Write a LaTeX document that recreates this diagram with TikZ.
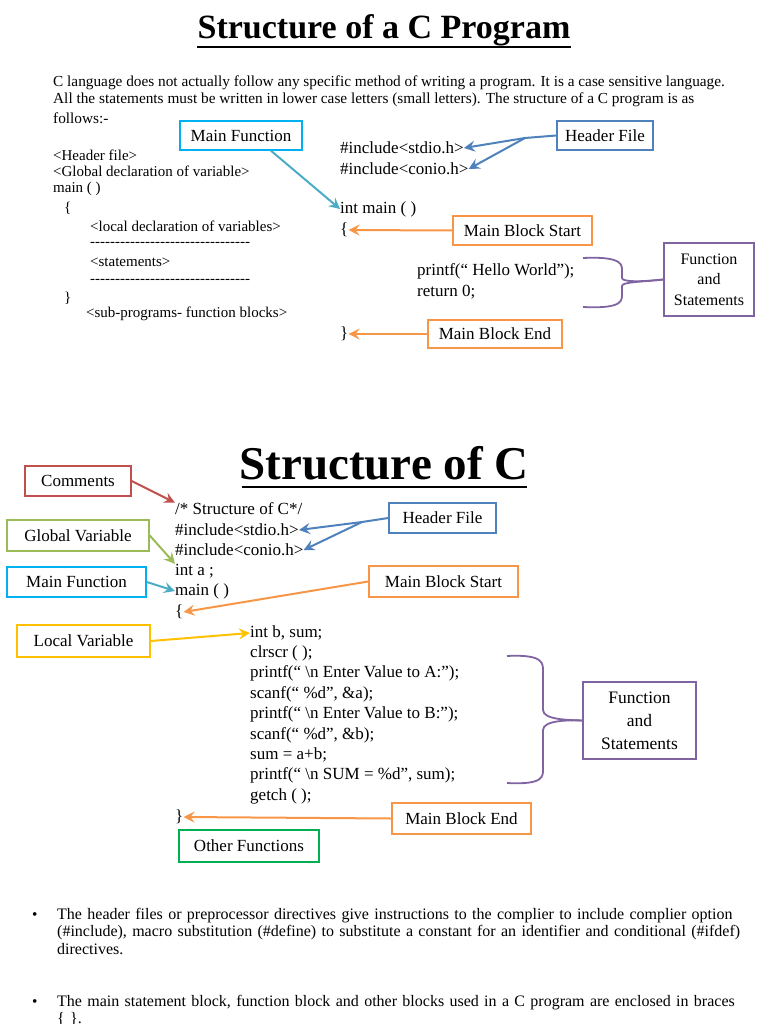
\documentclass[tikz,border=0pt]{standalone}
\usepackage{fontspec}
\setmainfont{Liberation Serif}
\usetikzlibrary{arrows.meta}
\definecolor{cred}{HTML}{C0504D}\definecolor{cgreen}{HTML}{9BBB59}
\definecolor{ccyan}{HTML}{00B0F0}\definecolor{cblue}{HTML}{4F81BD}
\definecolor{corange}{HTML}{F79646}\definecolor{cpurple}{HTML}{8064A2}
\definecolor{cyel}{HTML}{FFC000}\definecolor{cteal}{HTML}{4BACC6}
\definecolor{cgreen2}{HTML}{00B050}
\newcommand\mydashes{\foreach\k in{1,...,32}{-}}
\begin{document}
\begin{tikzpicture}[x=1pt,y=-1pt,
 t/.style={anchor=west,inner sep=0pt,font=\fontsize{15.3}{18}\selectfont},
 l/.style={anchor=west,inner sep=0pt,font=\fontsize{15}{18}\selectfont},
 c/.style={anchor=west,inner sep=0pt,font=\fontsize{17}{19}\selectfont},
 bx/.style={draw=#1,line width=1.5pt,inner sep=0pt,font=\fontsize{17}{20}\selectfont,align=center},
 ar/.style={draw=#1,line width=2pt,-{Stealth[length=11pt,width=11pt,inset=4pt]}},
 br/.style={draw=cpurple,line width=1.8pt}]
\useasboundingbox (0,0) rectangle (768,1024);
% ---- part 1
\node[font=\bfseries\fontsize{34}{38}\selectfont,inner sep=0pt] (t1) at (384,30) {Structure of a C Program};
\draw[line width=1.8pt] (197,47) -- (571,47);
\node[t] (p1) at (53,83) {C language does not actually follow any specific method of writing a program. It is a case sensitive language.};
\node[t] (p2) at (53,100) {All the statements must be written in lower case letters (small letters). The structure of a C program is as};
\node[t] (p3) at (53,118) {follows:-};
\node[l] (l1) at (53,155) {<Header file>};
\node[l] (l2) at (53,171) {<Global declaration of variable>};
\node[l] (l3) at (53,189) {main ( )};
\node[l] (l4) at (64,208) {\{};
\node[l] (l5) at (90,226) {<local declaration of variables>};
\node[l] (l6) at (90,244) {\mydashes};
\node[l] (l7) at (90,262) {<statements>};
\node[l] (l8) at (90,281) {\mydashes};
\node[l] (l9) at (64,298) {\}};
\node[l] (l10) at (86,314) {<sub-programs- function blocks>};
\node[bx=ccyan,minimum width=122,minimum height=29] (mf1) at (241,135.5) {Main Function};
\node[c] (inc1) at (340,148) {\#include<stdio.h>};
\node[c] (inc2) at (340,169) {\#include<conio.h>};
\node[bx=cblue,minimum width=96,minimum height=29] (hf1) at (605,135.5) {Header File};
\node[c] (im) at (340,209) {int main ( )};
\node[c] (ob1) at (340,230) {\{};
\node[bx=corange,minimum width=139,minimum height=29] (mbs1) at (522.5,230.5) {Main Block Start};
\node[c] (pr1) at (417,271) {printf(“ Hello World”);};
\node[c] (rt1) at (417,292) {return 0;};
\node[bx=cpurple,minimum width=90,minimum height=73,font=\fontsize{16}{20.5}\selectfont] (fs1) at (709,279.5) {Function\\and\\Statements};
\node[c] (cb1) at (340,334) {\}};
\node[bx=corange,minimum width=134,minimum height=28] (mbe1) at (495,334) {Main Block End};
\draw[ar=cteal] (mf1.south) ++(30,0) -- (im.west);
\coordinate (j1) at (525,138);
\draw[ar=cblue] (hf1.west) -- (j1) -- (inc1.east);
\draw[ar=cblue] (j1) -- (inc2.east);
\draw[ar=corange] (mbs1.west) -- (ob1.east);
\draw[ar=corange] (mbe1.west) -- (cb1.east);
\draw[br] (583,258) .. controls (625,256) and (622,266) .. (622,272) -- (622,278) .. controls (622,282) and (640,282) .. (fs1.west);
\draw[br] (583,307) .. controls (625,309) and (622,300) .. (622,292) -- (622,286) .. controls (622,282) and (640,282) .. (fs1.west);
% ---- part 2
\node[font=\bfseries\fontsize{47}{50}\selectfont,inner sep=0pt] (t2) at (384,463) {Structure of C};
\draw[line width=2.2pt] (242,487) -- (527,487);
\node[bx=cred,minimum width=106,minimum height=30] (cm) at (78,481) {Comments};
\node[c] (s1) at (175,509) {/* Structure of C*/};
\node[c] (s2) at (175,530) {\#include<stdio.h>};
\node[c] (s3) at (175,550) {\#include<conio.h>};
\node[c] (s4) at (175,571) {int a ;};
\node[c] (s5) at (175,591) {main ( )};
\node[c] (s6) at (175,612) {\{};
\node[bx=cblue,minimum width=107,minimum height=30] (hf2) at (442.5,518) {Header File};
\node[bx=cgreen,minimum width=142,minimum height=31] (gv) at (78,535.5) {Global Variable};
\node[bx=ccyan,minimum width=139,minimum height=30] (mf2) at (76.5,582) {Main Function};
\node[bx=corange,minimum width=149,minimum height=31] (mbs2) at (443.5,581.5) {Main Block Start};
\node[bx=cyel,minimum width=133,minimum height=32] (lv) at (83.5,641) {Local Variable};
\foreach \i/\s in {1/{int b, sum;},2/{clrscr ( );},3/{printf(“ \textbackslash n Enter Value to A:”);},4/{scanf(“ \%d”, \&a);},5/{printf(“ \textbackslash n Enter Value to B:”);},6/{scanf(“ \%d”, \&b);},7/{sum = a+b;},8/{printf(“ \textbackslash n SUM = \%d”, sum);},9/{getch ( );}}
  \node[c] (b\i) at (250,{633+20.4*(\i-1)}) {\s};
\node[bx=cpurple,minimum width=113,minimum height=77,font=\fontsize{17.5}{23}\selectfont] (fs2) at (639.5,720.5) {Function\\and\\Statements};
\node[c] (cb2) at (175,817) {\}};
\node[bx=corange,minimum width=139,minimum height=31] (mbe2) at (461.5,818.5) {Main Block End};
\node[bx=cgreen2,minimum width=140,minimum height=32] (of) at (249,846) {Other Functions};
\draw[ar=cred] (cm.east) -- (s1.north west);
\coordinate (j2) at (362,522);
\draw[ar=cblue] (hf2.west) -- (j2) -- (s2.east);
\draw[ar=cblue] (j2) -- (s3.east);
\draw[ar=cgreen] (gv.east) -- (s4.north west);
\draw[ar=cteal] (mf2.east) -- (s5.west);
\draw[ar=corange] (mbs2.west) -- (s6.east);
\draw[ar=cyel] (lv.east) -- (b1.west);
\draw[ar=corange] (mbe2.west) -- (cb2.east);
\draw[br] (507,656) .. controls (545,654) and (543,664) .. (543,672) -- (543,710) .. controls (543,720) and (570,720) .. (fs2.west);
\draw[br] (507,783) .. controls (545,785) and (543,776) .. (543,768) -- (543,730) .. controls (543,720) and (570,720) .. (fs2.west);
% ---- bullets
\node[t] (d1) at (32,916) {•};
\node[t,font=\fontsize{16}{17.5}\selectfont,anchor=north west,align=left,text width=690] (bt1) at (57,908) {\raggedright The header files or preprocessor directives give instructions to the complier to include complier option (\#include), macro substitution (\#define) to substitute a constant for an identifier and conditional (\#ifdef) directives.\par};
\node[t] (d2) at (32,1003) {•};
\node[t,font=\fontsize{16}{17.5}\selectfont,anchor=north west,align=left,text width=690] (bt2) at (57,995) {\raggedright The main statement block, function block and other blocks used in a C program are enclosed in braces \{ \}.\par};
\end{tikzpicture}
\end{document}
